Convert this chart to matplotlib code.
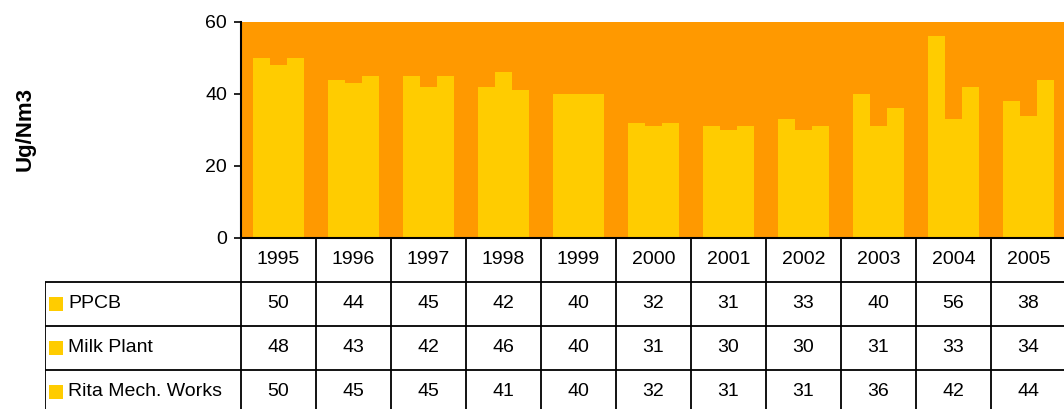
import matplotlib.pyplot as plt

years = ['1995', '1996', '1997', '1998', '1999', '2000',
         '2001', '2002', '2003', '2004', '2005']
series_names = ['PPCB', 'Milk Plant', 'Rita Mech. Works']
ppcb = [50, 44, 45, 42, 40, 32, 31, 33, 40, 56, 38]
milk = [48, 43, 42, 46, 40, 31, 30, 30, 31, 33, 34]
rita = [50, 45, 45, 41, 40, 32, 31, 31, 36, 42, 44]
yticks = [0, 20, 40, 60]

plt.rcParams['font.family'] = ['Liberation Sans', 'DejaVu Sans']

W, H = 1064, 409
orange = '#FF9900'
yellow = '#FFCC00'
fs = 14

fig = plt.figure(figsize=(W / 100, H / 100), dpi=100)

# plot area in pixels: left 241, right 1066 (clipped), top 22, bottom 238
ax = fig.add_axes([241 / W, 1 - 238 / H, (1066 - 241) / W, (238 - 22) / H])
ax.set_facecolor(orange)
x = list(range(len(years)))
bw = 0.231
for off, vals in zip([-bw, 0, bw], [ppcb, milk, rita]):
    ax.bar([i + off for i in x], vals, width=bw, color=yellow, linewidth=0)
ax.set_xlim(-0.5, len(years) - 0.5)
ax.set_ylim(0, 60)
ax.set_yticks(yticks)
ax.tick_params(axis='y', labelsize=fs, length=5, width=1.2, pad=5)
ax.set_xticks([])
ax.spines['left'].set_linewidth(1.5)
ax.spines['bottom'].set_linewidth(1.5)
ax.spines['top'].set_visible(False)
ax.spines['right'].set_visible(False)

fig.text(25 / W, 1 - 129 / H, 'Ug/Nm3', rotation=90, ha='center', va='center',
         fontsize=16, fontweight='bold')

# data table below the plot, same column scale as the bars
row_h = 44
tab_left = 45
label_w = (241 - tab_left) / 75.0
tab = fig.add_axes([tab_left / W, 1 - (238 + 4 * row_h) / H,
                    (1066 - tab_left) / W, 4 * row_h / H])
tab.set_xlim(-0.5 - label_w, len(years) - 0.5)
tab.set_ylim(4, 0)
tab.axis('off')

lw = 1.3
tab.hlines([1, 2, 3, 4], -0.5 - label_w, len(years) - 0.5, color='black', lw=lw)
tab.vlines([i - 0.5 for i in range(len(years) + 1)], 0, 4, color='black', lw=lw)
tab.vlines([-0.5 - label_w], 1, 4, color='black', lw=lw)

for i, yr in enumerate(years):
    tab.text(i, 0.5, yr, ha='center', va='center', fontsize=fs)

for r, (name, vals) in enumerate(zip(series_names, [ppcb, milk, rita])):
    yc = r + 1.5
    tab.scatter([-0.5 - label_w + 10.5 / 75], [yc], marker='s', s=90,
                color=yellow, linewidths=0)
    tab.text(-0.5 - label_w + 23 / 75, yc, name, ha='left', va='center', fontsize=fs)
    for i, v in enumerate(vals):
        tab.text(i, yc, str(v), ha='center', va='center', fontsize=fs)

fig.savefig('out.png', dpi=100)
